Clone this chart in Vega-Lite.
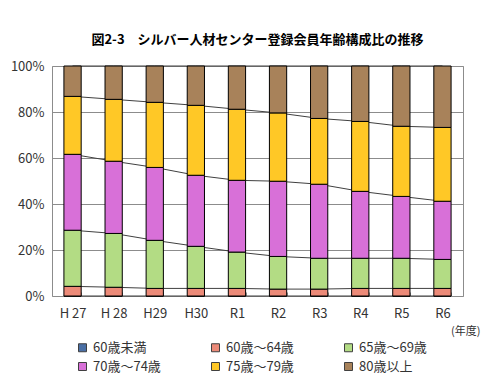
{
  "$schema": "https://vega.github.io/schema/vega-lite/v6.json",
  "width": 411,
  "height": 230,
  "autosize": "none",
  "padding": {"left": 52, "top": 66, "right": 24, "bottom": 88},
  "background": "white",
  "title": {
    "text": "図2-3　シルバー人材センター登録会員年齢構成比の推移",
    "font": "Noto Sans CJK JP",
    "fontSize": 13,
    "fontWeight": "bold",
    "color": "#000000",
    "anchor": "middle",
    "offset": 13
  },
  "config": {
    "view": {"stroke": "#8c8c8c", "strokeWidth": 1},
    "font": "Noto Sans CJK JP"
  },
  "data": {
    "values": [
      {"year": "H 27", "age": "60歳未満", "v": 0},
      {"year": "H 27", "age": "60歳～64歳", "v": 4.2},
      {"year": "H 27", "age": "65歳～69歳", "v": 24.4},
      {"year": "H 27", "age": "70歳～74歳", "v": 33.0},
      {"year": "H 27", "age": "75歳～79歳", "v": 25.2},
      {"year": "H 27", "age": "80歳以上", "v": 13.2},
      {"year": "H 28", "age": "60歳未満", "v": 0},
      {"year": "H 28", "age": "60歳～64歳", "v": 3.8},
      {"year": "H 28", "age": "65歳～69歳", "v": 23.4},
      {"year": "H 28", "age": "70歳～74歳", "v": 31.4},
      {"year": "H 28", "age": "75歳～79歳", "v": 26.9},
      {"year": "H 28", "age": "80歳以上", "v": 14.5},
      {"year": "H29", "age": "60歳未満", "v": 0},
      {"year": "H29", "age": "60歳～64歳", "v": 3.3},
      {"year": "H29", "age": "65歳～69歳", "v": 20.9},
      {"year": "H29", "age": "70歳～74歳", "v": 31.7},
      {"year": "H29", "age": "75歳～79歳", "v": 28.3},
      {"year": "H29", "age": "80歳以上", "v": 15.8},
      {"year": "H30", "age": "60歳未満", "v": 0},
      {"year": "H30", "age": "60歳～64歳", "v": 3.3},
      {"year": "H30", "age": "65歳～69歳", "v": 18.3},
      {"year": "H30", "age": "70歳～74歳", "v": 30.9},
      {"year": "H30", "age": "75歳～79歳", "v": 30.4},
      {"year": "H30", "age": "80歳以上", "v": 17.1},
      {"year": "R1", "age": "60歳未満", "v": 0},
      {"year": "R1", "age": "60歳～64歳", "v": 3.3},
      {"year": "R1", "age": "65歳～69歳", "v": 15.8},
      {"year": "R1", "age": "70歳～74歳", "v": 31.2},
      {"year": "R1", "age": "75歳～79歳", "v": 30.9},
      {"year": "R1", "age": "80歳以上", "v": 18.8},
      {"year": "R2", "age": "60歳未満", "v": 0},
      {"year": "R2", "age": "60歳～64歳", "v": 3.0},
      {"year": "R2", "age": "65歳～69歳", "v": 14.2},
      {"year": "R2", "age": "70歳～74歳", "v": 32.7},
      {"year": "R2", "age": "75歳～79歳", "v": 29.7},
      {"year": "R2", "age": "80歳以上", "v": 20.4},
      {"year": "R3", "age": "60歳未満", "v": 0},
      {"year": "R3", "age": "60歳～64歳", "v": 3.0},
      {"year": "R3", "age": "65歳～69歳", "v": 13.4},
      {"year": "R3", "age": "70歳～74歳", "v": 32.2},
      {"year": "R3", "age": "75歳～79歳", "v": 28.6},
      {"year": "R3", "age": "80歳以上", "v": 22.8},
      {"year": "R4", "age": "60歳未満", "v": 0},
      {"year": "R4", "age": "60歳～64歳", "v": 3.3},
      {"year": "R4", "age": "65歳～69歳", "v": 13.1},
      {"year": "R4", "age": "70歳～74歳", "v": 29.1},
      {"year": "R4", "age": "75歳～79歳", "v": 30.4},
      {"year": "R4", "age": "80歳以上", "v": 24.1},
      {"year": "R5", "age": "60歳未満", "v": 0},
      {"year": "R5", "age": "60歳～64歳", "v": 3.3},
      {"year": "R5", "age": "65歳～69歳", "v": 13.1},
      {"year": "R5", "age": "70歳～74歳", "v": 26.9},
      {"year": "R5", "age": "75歳～79歳", "v": 30.5},
      {"year": "R5", "age": "80歳以上", "v": 26.2},
      {"year": "R6", "age": "60歳未満", "v": 0},
      {"year": "R6", "age": "60歳～64歳", "v": 3.3},
      {"year": "R6", "age": "65歳～69歳", "v": 12.6},
      {"year": "R6", "age": "70歳～74歳", "v": 25.3},
      {"year": "R6", "age": "75歳～79歳", "v": 32.1},
      {"year": "R6", "age": "80歳以上", "v": 26.7}
    ]
  },
  "transform": [
    {"stack": "v", "groupby": ["year"], "sort": [{"field": "age", "order": "ascending"}], "as": ["y0", "y1"]}
  ],
  "encoding": {
    "x": {
      "field": "year",
      "type": "nominal",
      "sort": null,
      "scale": {"paddingInner": 0.58, "paddingOuter": 0.29},
      "axis": {
        "labelAngle": 0,
        "labelFontSize": 13,
        "labelColor": "#333333",
        "labelPadding": 15,
        "domain": false,
        "ticks": true,
        "tickBand": "extent",
        "tickSize": -4,
        "tickColor": "#8c8c8c",
        "title": "(年度)",
        "titleFontSize": 11,
        "titleFontWeight": "normal",
        "titleColor": "#333333",
        "titleAnchor": "end",
        "titleAlign": "right",
        "titleX": 428,
        "titleY": 35,
        "titleBaseline": "middle"
      }
    }
  },
  "layer": [
    {
      "mark": {"type": "line", "color": "#404040", "strokeWidth": 1},
      "encoding": {
        "y": {"field": "y1", "type": "quantitative"},
        "detail": {"field": "age"}
      }
    },
    {
      "mark": {"type": "bar", "stroke": "#000000", "strokeWidth": 1},
      "encoding": {
        "y": {
          "field": "y0",
          "type": "quantitative",
          "scale": {"domain": [0, 100]},
          "axis": {
            "values": [0, 20, 40, 60, 80, 100],
            "labelExpr": "datum.value + '%'",
            "labelFontSize": 13,
            "labelColor": "#333333",
            "labelPadding": 8,
            "ticks": false,
            "domain": false,
            "grid": true,
            "gridColor": "#8c8c8c",
            "title": null
          }
        },
        "y2": {"field": "y1"},
        "fill": {
          "field": "age",
          "type": "nominal",
          "scale": {
            "domain": ["60歳未満", "60歳～64歳", "65歳～69歳", "70歳～74歳", "75歳～79歳", "80歳以上"],
            "range": ["#4a6fa5", "#ec8a78", "#b3dc84", "#d870d8", "#ffc826", "#a8825a"]
          },
          "legend": {
            "title": null,
            "orient": "none",
            "legendX": 24,
            "legendY": 275,
            "columns": 3,
            "direction": "horizontal",
            "symbolType": "square",
            "symbolSize": 64,
            "symbolStrokeColor": "#404040",
            "symbolStrokeWidth": 1,
            "labelFontSize": 13,
            "labelColor": "#333333",
            "columnPadding": 48,
            "rowPadding": 5,
            "padding": 0
          }
        }
      }
    }
  ]
}
